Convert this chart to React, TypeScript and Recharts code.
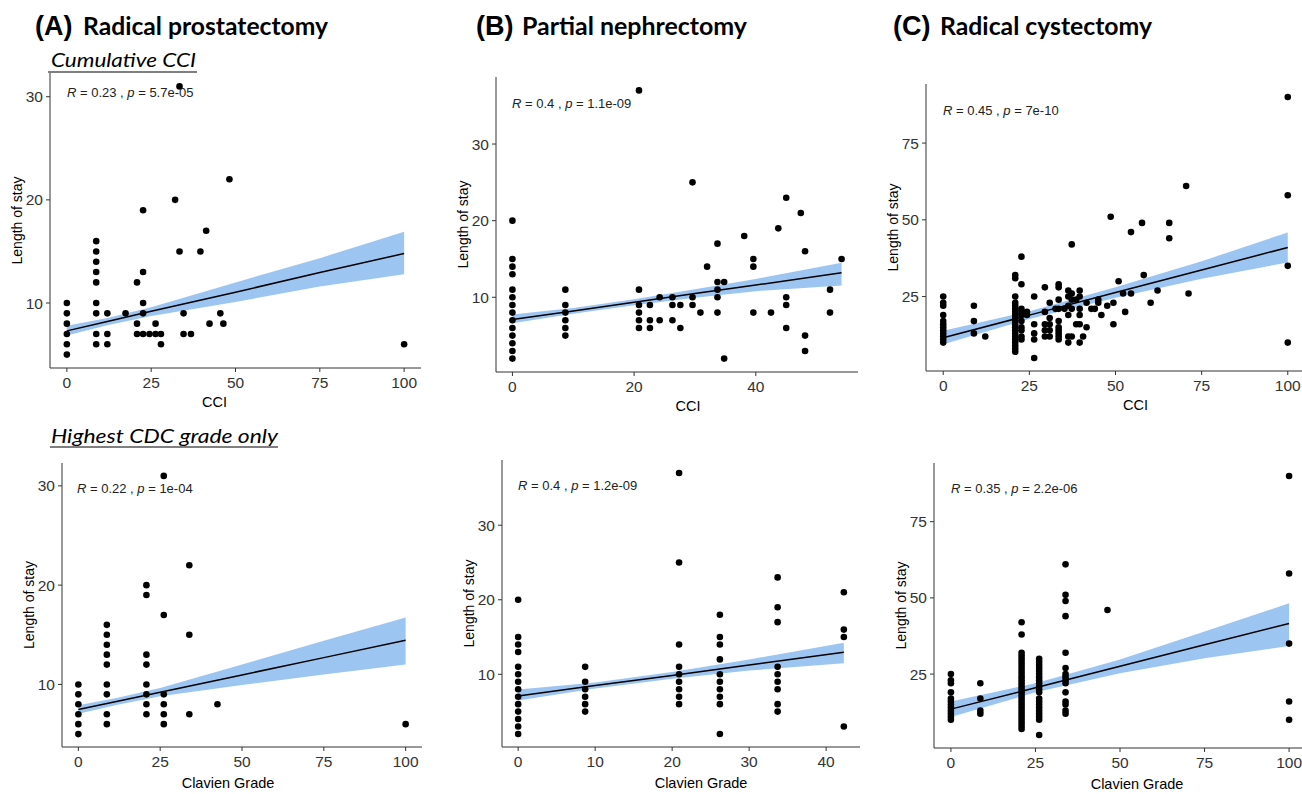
import { ComposedChart, Scatter, Line, Area, XAxis, YAxis } from "recharts";

// points: [x, list of length-of-stay values at that x]
const prostatectomyCci: [number, number[]][] = [
  [0, [5, 6, 7, 8, 9, 10]],
  [8.7, [6, 7, 9, 10, 12, 13, 14, 15, 16]],
  [12, [6, 7, 9]],
  [17.4, [9]],
  [20.8, [7, 8, 12]],
  [22.6, [7, 9, 10, 13, 19]],
  [24.5, [7]],
  [26.3, [7, 8]],
  [27.9, [6, 7]],
  [32.1, [20]],
  [33.4, [15, 31]],
  [34.6, [7, 9]],
  [36.8, [7]],
  [39.6, [15]],
  [41.3, [17]],
  [42.3, [8]],
  [45.5, [9]],
  [46.4, [8]],
  [48.2, [22]],
  [100, [6]],
];

const nephrectomyCci: [number, number[]][] = [
  [0, [2, 3, 4, 5, 6, 7, 8, 9, 10, 11, 13, 14, 15, 20]],
  [8.7, [5, 6, 7, 8, 9, 11]],
  [20.8, [6, 7, 8, 9, 11, 37]],
  [22.6, [6, 7, 9]],
  [24.2, [7, 10]],
  [26.3, [7, 9, 10]],
  [27.6, [6, 9]],
  [29.6, [9, 10, 25]],
  [30.9, [8]],
  [32.0, [14]],
  [33.7, [8, 10, 11, 12, 17]],
  [34.8, [2, 12]],
  [38.1, [18]],
  [39.6, [8, 14, 15]],
  [42.5, [8]],
  [43.7, [19]],
  [45.0, [6, 9, 10, 23]],
  [47.4, [21]],
  [48.1, [3, 5, 16]],
  [52.2, [8, 11]],
  [54.1, [15]],
];

const cystectomyCci: [number, number[]][] = [
  [0, [10, 11, 12, 13, 14, 15, 16, 17, 19, 22, 23, 25]],
  [8.9, [13, 17, 22]],
  [12.2, [12]],
  [20.9, [7, 8, 9, 10, 11, 12, 13, 14, 15, 16, 17, 18, 19, 20, 21, 22, 23, 25, 31, 32]],
  [22.7, [11, 12, 14, 15, 17, 19, 20, 21, 29, 38]],
  [24.3, [19, 20]],
  [26.4, [5, 11, 13, 16, 25]],
  [29.5, [12, 14, 16, 20, 28]],
  [30.9, [12, 14, 16, 18, 23]],
  [32.6, [21]],
  [33.5, [11, 12, 13, 14, 15, 17, 21, 24, 28, 29]],
  [35.2, [21]],
  [36.3, [10, 12, 19, 22, 25, 27]],
  [37.3, [12, 21, 24, 26, 42]],
  [38.6, [16, 24]],
  [39.6, [10, 16, 19, 21, 25, 27]],
  [40.6, [12]],
  [41.6, [15, 23]],
  [43.0, [21]],
  [44.0, [21]],
  [45.0, [23, 24]],
  [45.9, [19]],
  [47.6, [22]],
  [48.6, [51]],
  [49.4, [16, 23]],
  [50.9, [30]],
  [52.2, [26]],
  [52.8, [20]],
  [54.5, [26, 46]],
  [57.7, [49]],
  [58.2, [32]],
  [60.2, [23]],
  [62.2, [27]],
  [65.6, [44, 49]],
  [70.5, [61]],
  [71.2, [26]],
  [100, [10, 35, 58, 90]],
];

const prostatectomyCdc: [number, number[]][] = [
  [0, [5, 6, 7, 8, 9, 10]],
  [8.7, [6, 7, 9, 10, 12, 13, 14, 15, 16]],
  [20.8, [7, 8, 9, 10, 12, 13, 19, 20]],
  [26.1, [6, 7, 8, 9, 17, 31]],
  [33.9, [7, 15, 22]],
  [42.5, [8]],
  [100, [6]],
];

const nephrectomyCdc: [number, number[]][] = [
  [0, [2, 3, 4, 5, 6, 7, 8, 9, 10, 11, 13, 14, 15, 20]],
  [8.7, [5, 6, 7, 8, 9, 11]],
  [20.9, [6, 7, 8, 9, 10, 11, 14, 25, 37]],
  [26.2, [2, 6, 7, 8, 9, 10, 12, 14, 15, 18]],
  [33.7, [5, 6, 8, 9, 10, 11, 17, 19, 23]],
  [42.3, [3, 15, 16, 21]],
];

const cystectomyCdc: [number, number[]][] = [
  [0, [10, 11, 12, 13, 14, 15, 16, 17, 19, 22, 23, 25]],
  [8.7, [12, 13, 17, 22]],
  [20.9, [7, 8, 9, 10, 11, 12, 13, 14, 15, 16, 17, 18, 19, 20, 21, 22, 23, 24, 25, 26, 27, 28, 29, 30, 31, 32, 38, 42]],
  [26.1, [5, 10, 11, 12, 13, 14, 15, 16, 17, 19, 20, 21, 22, 23, 24, 25, 26, 27, 28, 29, 30]],
  [33.9, [12, 13, 15, 16, 19, 22, 23, 24, 25, 27, 32, 44, 49, 51, 61]],
  [46.3, [46]],
  [100, [10, 16, 35, 58, 90]],
];

// regression line and 95% band: [x, fit, lower, upper]
const prostatectomyCciFit = [
  [0, 7.3, 6.85, 7.8],
  [12, 8.2, 7.85, 8.55],
  [25, 9.2, 8.75, 9.6],
  [50, 11.05, 10.1, 12.0],
  [75, 12.95, 11.6, 14.35],
  [100, 14.8, 12.8, 16.9],
];
const nephrectomyCciFit = [
  [0, 7.1, 6.6, 7.75],
  [10, 8.2, 7.85, 8.6],
  [20, 9.35, 8.95, 9.75],
  [30, 10.5, 9.95, 11.05],
  [40, 11.6, 10.8, 12.4],
  [54.1, 13.2, 11.55, 14.5],
];
const cystectomyCciFit = [
  [0, 11.6, 9.5, 13.9],
  [25, 18.95, 17.7, 20.2],
  [50, 26.3, 24.6, 28.0],
  [75, 33.65, 30.8, 36.5],
  [100, 41.0, 36.1, 45.9],
];
const prostatectomyCdcFit = [
  [0, 7.48, 7.05, 7.9],
  [12, 8.3, 7.95, 8.65],
  [25, 9.22, 8.8, 9.65],
  [50, 10.96, 9.95, 12.0],
  [75, 12.7, 11.0, 14.4],
  [100, 14.44, 12.0, 16.75],
];
const nephrectomyCdcFit = [
  [0, 7.1, 6.5, 7.95],
  [10, 8.5, 8.1, 8.9],
  [20, 9.85, 9.4, 10.3],
  [30, 11.25, 10.5, 12.0],
  [42.3, 12.95, 11.5, 14.25],
];
const cystectomyCdcFit = [
  [0, 13.5, 10.9, 16.0],
  [25, 20.5, 19.0, 22.0],
  [50, 27.55, 25.3, 29.8],
  [75, 34.6, 30.2, 39.0],
  [100, 41.6, 34.2, 48.2],
];

const procedureTitles = [
  { tag: "(A)", name: "Radical prostatectomy", x: 35, nameX: 83, nameW: 245 },
  { tag: "(B)", name: "Partial nephrectomy", x: 476, nameX: 522, nameW: 225 },
  { tag: "(C)", name: "Radical cystectomy", x: 893, nameX: 940, nameW: 212 },
];

const corrNotes = [
  { r: "0.23", p: "5.7e-05", x: 67, y: 96.5 },
  { r: "0.4", p: "1.1e-09", x: 512, y: 107.5 },
  { r: "0.45", p: "7e-10", x: 943, y: 114.5 },
  { r: "0.22", p: "1e-04", x: 77, y: 492.5 },
  { r: "0.4", p: "1.2e-09", x: 518, y: 489.5 },
  { r: "0.35", p: "2.2e-06", x: 951, y: 492.5 },
];

const Y_W = 50;
const X_H = 44;
const M_TOP = 5;
const M_RIGHT = 2;
const SANS = "Arial, 'Liberation Sans', sans-serif";

const panels = [
  { box: { left: 50, right: 421, top: 73, bottom: 368 }, xDomain: [-5, 105], xTicks: [0, 25, 50, 75, 100], yDomain: [3.7, 32.3], yTicks: [10, 20, 30], points: prostatectomyCci, fit: prostatectomyCciFit, xLabel: "CCI", dx: -21, base: 39 },
  { box: { left: 496, right: 858, top: 77, bottom: 372 }, xDomain: [-2.7, 56.8], xTicks: [0, 20, 40], yDomain: [0.25, 38.75], yTicks: [10, 20, 30], points: nephrectomyCci, fit: nephrectomyCciFit, xLabel: "CCI", dx: 11, base: 39 },
  { box: { left: 926, right: 1305, top: 84, bottom: 371 }, xDomain: [-5, 105], xTicks: [0, 25, 50, 75, 100], yDomain: [0.75, 94.25], yTicks: [25, 50, 75], points: cystectomyCci, fit: cystectomyCciFit, xLabel: "CCI", dx: 20, base: 39 },
  { box: { left: 62, right: 422, top: 463, bottom: 747 }, xDomain: [-5, 105], xTicks: [0, 25, 50, 75, 100], yDomain: [3.7, 32.3], yTicks: [10, 20, 30], points: prostatectomyCdc, fit: prostatectomyCdcFit, xLabel: "Clavien Grade", dx: -14, base: 41 },
  { box: { left: 502, right: 860, top: 460, bottom: 747 }, xDomain: [-2.1, 44.4], xTicks: [0, 10, 20, 30, 40], yDomain: [0.25, 38.75], yTicks: [10, 20, 30], points: nephrectomyCdc, fit: nephrectomyCdcFit, xLabel: "Clavien Grade", dx: 20, base: 41 },
  { box: { left: 934, right: 1306, top: 463, bottom: 748 }, xDomain: [-5, 105], xTicks: [0, 25, 50, 75, 100], yDomain: [0.75, 94.25], yTicks: [25, 50, 75], points: cystectomyCdc, fit: cystectomyCdcFit, xLabel: "Clavien Grade", dx: 17, base: 41 },
];

const tickStyle = { fill: "#333", fontSize: 15.5, fontFamily: SANS };

function Dot(props: any) {
  return <circle cx={props.cx} cy={props.cy} r={3.3} fill="#000" />;
}

function Panel({ cfg }: { cfg: (typeof panels)[number] }) {
  const { box } = cfg;
  const line = cfg.fit.map(([x, fit, lo, hi]) => ({ x, fit, band: [lo, hi] }));
  const pts = cfg.points.flatMap(([x, ys]) => ys.map((y) => ({ x, y })));
  const width = box.right - box.left + Y_W + M_RIGHT;
  const height = box.bottom - box.top + M_TOP + X_H;

  return (
    <div style={{ position: "absolute", left: box.left - Y_W, top: box.top - M_TOP }}>
      <ComposedChart
        width={width}
        height={height}
        data={line}
        margin={{ top: M_TOP, right: M_RIGHT, bottom: 0, left: 0 }}
      >
        <XAxis
          type="number"
          dataKey="x"
          domain={cfg.xDomain}
          ticks={cfg.xTicks}
          allowDataOverflow
          height={X_H}
          tick={tickStyle}
          tickSize={4}
          tickMargin={5}
          stroke="#333"
          label={(p: any) => {
            const vb = p.viewBox;
            return (
              <text x={vb.x + vb.width / 2 + cfg.dx} y={vb.y + cfg.base} textAnchor="middle" fontSize={14.5} fontFamily={SANS} fill="#000">
                {cfg.xLabel}
              </text>
            );
          }}
        />
        <YAxis
          type="number"
          dataKey="y"
          domain={cfg.yDomain}
          ticks={cfg.yTicks}
          allowDataOverflow
          width={Y_W}
          tick={tickStyle}
          tickSize={4}
          tickMargin={3}
          stroke="#333"
          label={(p: any) => {
            const vb = p.viewBox;
            const cx = vb.x + 17;
            const cy = vb.y + vb.height / 2;
            return (
              <text x={cx} y={cy} transform={`rotate(-90, ${cx}, ${cy})`} textAnchor="middle" dominantBaseline="central" fontSize={14} fontFamily={SANS} fill="#000">
                Length of stay
              </text>
            );
          }}
        />
        <Scatter data={pts} shape={Dot} isAnimationActive={false} />
        <Area type="linear" dataKey="band" fill="#3C8CE6" fillOpacity={0.5} stroke="none" isAnimationActive={false} />
        <Line type="linear" dataKey="fit" stroke="#000" strokeWidth={1.5} dot={false} isAnimationActive={false} />
      </ComposedChart>
    </div>
  );
}

export default function App() {
  return (
    <div style={{ position: "absolute", left: 0, top: 0, width: 1302, height: 794, overflow: "hidden", background: "#fff" }}>
      {panels.map((cfg, i) => (
        <Panel key={i} cfg={cfg} />
      ))}
      <svg width={1302} height={794} style={{ position: "absolute", left: 0, top: 0, pointerEvents: "none" }}>
        {procedureTitles.map((t) => (
          <g key={t.tag}>
            <text x={t.x} y={35} fontFamily={SANS} fontWeight="bold" fontSize={27} fill="#000">
              {t.tag}
            </text>
            <text x={t.nameX} y={35} fontFamily="Lato, 'Open Sans', sans-serif" fontWeight="bold" fontSize={24} fill="#000" textLength={t.nameW} lengthAdjust="spacingAndGlyphs">
              {t.name}
            </text>
          </g>
        ))}
        <text x={51} y={67} fontFamily="Lato, 'Open Sans', sans-serif" fontStyle="italic" fontSize={20} fill="#000" textLength={145} lengthAdjust="spacingAndGlyphs">
          Cumulative CCI
        </text>
        <line x1={48} x2={197} y1={72} y2={72} stroke="#000" strokeWidth={1.2} />
        <text x={51} y={443} fontFamily="Lato, 'Open Sans', sans-serif" fontStyle="italic" fontSize={20} fill="#000" textLength={227} lengthAdjust="spacingAndGlyphs">
          Highest CDC grade only
        </text>
        <line x1={50} x2={278} y1={447} y2={447} stroke="#000" strokeWidth={1.2} />
        {corrNotes.map((n, i) => (
          <text key={i} x={n.x} y={n.y} fontFamily={SANS} fontSize={13} fill="#222">
            <tspan fontStyle="italic">R</tspan>
            {` = ${n.r} , `}
            <tspan fontStyle="italic">p</tspan>
            {` = ${n.p}`}
          </text>
        ))}
      </svg>
    </div>
  );
}
